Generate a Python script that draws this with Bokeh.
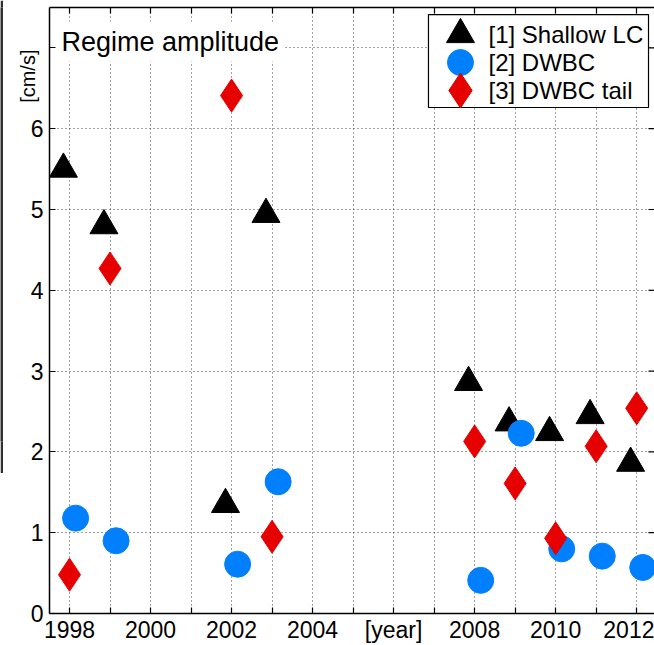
from math import pi

from bokeh.core.properties import value
from bokeh.embed import file_html
from bokeh.layouts import row
from bokeh.models import ColumnDataSource, FixedTicker, Label, LinearAxis, Range1d
from bokeh.plotting import figure
from bokeh.resources import INLINE
from bokeh.transform import dodge

# ---- data -------------------------------------------------------------
years = [1998, 1999, 2002, 2003, 2008, 2009, 2010, 2011, 2012]
shallow_lc = [5.50, 4.80, 1.35, 4.94, 2.86, 2.36, 2.24, 2.45, 1.86]
dwbc = [1.18, 0.90, 0.61, 1.63, 0.41, 2.23, 0.80, 0.71, 0.57]
dwbc_tail = [0.48, 4.27, 6.41, 0.95, 2.13, 1.61, 0.93, 2.07, 2.54]

series_labels = ["[1] Shallow LC", "[2] DWBC", "[3] DWBC tail"]
x_ticks = list(range(1998, 2013))
x_tick_labels = {t: (str(t) if t % 2 == 0 else "") for t in x_ticks}
x_tick_labels[2006] = "[year]"
y_ticks = list(range(0, 8))
y_tick_labels = {t: str(t) for t in y_ticks}
y_tick_labels[7] = ""
units_at = 6.98

# ---- style ------------------------------------------------------------
FONT = "Liberation Sans"
BLUE = "#0080ff"
RED = "#e60000"
X0, X1 = 1997.506, 2012.44
Y0, Y1 = 0.0, 7.5
PX_PER_YEAR = 605 / (X1 - X0)
PX_PER_UNIT = 606 / (Y1 - Y0)

src = ColumnDataSource(dict(year=years, lc=shallow_lc, dwbc=dwbc, tail=dwbc_tail))

p = figure(
    width=651, height=645,
    x_range=Range1d(X0, X1), y_range=Range1d(Y0, Y1),
    output_backend="svg", toolbar_location=None,
    min_border_left=46, min_border_right=0, min_border_top=7, min_border_bottom=32,
    outline_line_color=None, background_fill_color="white", border_fill_color="white",
)

# axes
for ax in (p.xaxis[0], p.yaxis[0]):
    ax.axis_line_width = 1.5
    ax.axis_line_color = "black"
    ax.major_tick_in = 6
    ax.major_tick_out = 0
    ax.major_tick_line_color = "black"
    ax.major_tick_line_width = 1.2
    ax.minor_tick_line_color = None
    ax.major_label_text_font = FONT
    ax.major_label_text_font_size = "23px"
    ax.major_label_text_color = "black"
    ax.major_label_standoff = 6

p.xaxis.ticker = FixedTicker(ticks=x_ticks)
p.xaxis.major_label_overrides = x_tick_labels
p.xaxis.major_label_standoff = 3
p.yaxis.ticker = FixedTicker(ticks=y_ticks)
p.yaxis.major_label_overrides = y_tick_labels

# units text near the top of the y axis, as a rotated tick label
units_axis = LinearAxis(
    ticker=FixedTicker(ticks=[units_at]),
    major_label_overrides={units_at: "[cm/s]"},
    major_label_orientation=pi / 2,
    major_label_text_font=FONT, major_label_text_font_size="20px",
    major_label_text_color="black", major_label_standoff=-1,
    axis_line_color=None, major_tick_line_color=None, minor_tick_line_color=None,
    major_tick_in=0, major_tick_out=0,
)
p.add_layout(units_axis, "left")

top = LinearAxis(
    ticker=FixedTicker(ticks=x_ticks),
    major_label_overrides={t: "" for t in x_ticks},
    major_label_text_font_size="1px", major_label_standoff=0,
    major_tick_in=6, major_tick_out=0, major_tick_line_width=1.2,
    minor_tick_line_color=None, axis_line_width=1.5,
)
p.add_layout(top, "above")

# dotted grid
p.xgrid.ticker = FixedTicker(ticks=x_ticks)
p.ygrid.ticker = FixedTicker(ticks=y_ticks)
for g in (p.xgrid[0], p.ygrid[0]):
    g.grid_line_color = "#444444"
    g.grid_line_dash = "1 3"
    g.grid_line_width = 1

# right-hand box ticks
p.segment(x0=X1 - 6 / PX_PER_YEAR, x1=X1, y0=y_ticks, y1=y_ticks,
          line_color="black", line_width=1.2)

# series
p.scatter(x=dodge("year", -0.15), y="lc", source=src, marker="triangle",
          size=28, fill_color="black", line_color="black")
p.scatter(x=dodge("year", 0.15), y="dwbc", source=src, marker="circle",
          size=26, fill_color=BLUE, line_color=BLUE)
p.scatter(x="year", y="tail", source=src, marker="diamond",
          size=33, fill_color=RED, line_color=RED)

# legend drawn in frame-fraction coordinates
p.extra_x_ranges = {"fx": Range1d(0, 1)}
p.extra_y_ranges = {"fy": Range1d(0, 1)}
lg_left, lg_right, lg_bottom, lg_top = 0.6264, 0.9901, 0.835, 0.9884
row_y0, row_step = 0.9554, 28 / 606
rows_y = [row_y0 - i * row_step for i in range(len(series_labels))]
p.quad(left=lg_left, right=lg_right, bottom=lg_bottom, top=lg_top,
       fill_color="white", line_color="black", line_width=1.2,
       x_range_name="fx", y_range_name="fy")
mk_x = 0.6793
p.scatter(x=[mk_x], y=[rows_y[0]], marker="triangle", size=28,
          fill_color="black", line_color="black", x_range_name="fx", y_range_name="fy")
p.scatter(x=[mk_x], y=[rows_y[1]], marker="circle", size=26,
          fill_color=BLUE, line_color=BLUE, x_range_name="fx", y_range_name="fy")
p.scatter(x=[mk_x], y=[rows_y[2]], marker="diamond", size=35,
          fill_color=RED, line_color=RED, x_range_name="fx", y_range_name="fy")
p.text(x=[0.7256] * 3, y=rows_y, text=series_labels,
       text_font=value(FONT), text_font_size=value("24px"),
       text_baseline="middle", text_align="left", text_color="black",
       x_range_name="fx", y_range_name="fy")

# panel title
p.add_layout(Label(x=X0 + 7 / PX_PER_YEAR, y=Y1 - 34 / PX_PER_UNIT,
                   text="Regime amplitude", text_font=FONT, text_font_size="27px",
                   text_baseline="middle", text_align="left", text_color="black",
                   background_fill_color="white", padding=5))

# edge of the neighbouring panel
edge = figure(width=3, height=473, output_backend="svg", toolbar_location=None,
              min_border=0, x_axis_type=None, y_axis_type=None,
              outline_line_color=None, background_fill_color="#303030",
              border_fill_color="#303030")
edge.grid.visible = False

layout = row(edge, p, spacing=0)
open("out.html", "w").write(file_html(layout, INLINE))
